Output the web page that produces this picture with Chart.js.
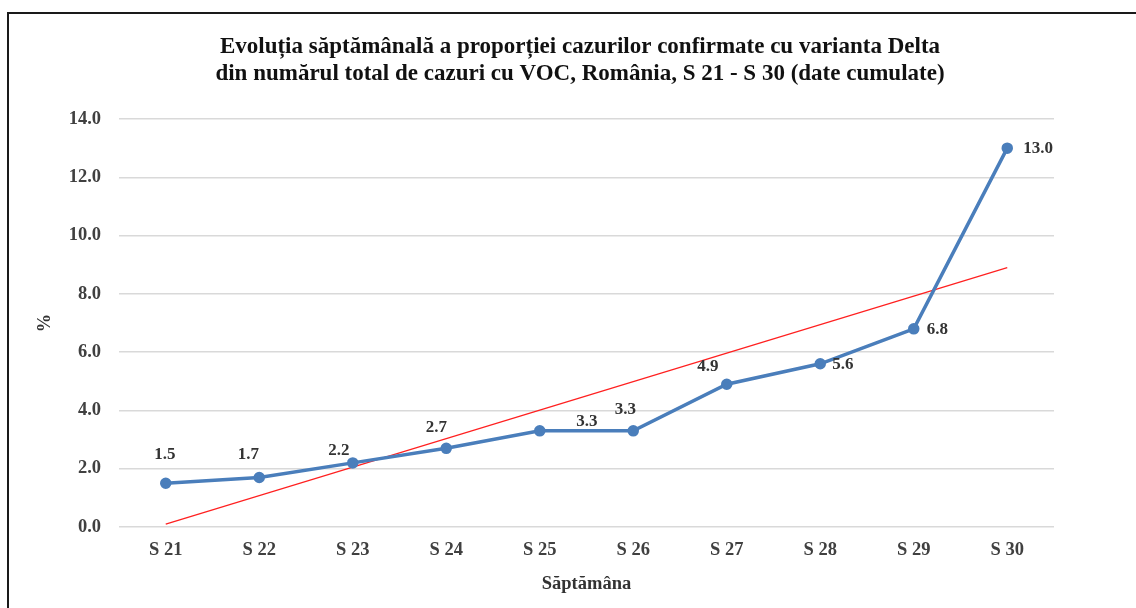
<!DOCTYPE html>
<html>
<head>
<meta charset="utf-8">
<script src="https://cdn.jsdelivr.net/npm/chart.js@4/dist/chart.umd.min.js"></script>
<style>
  html, body { margin: 0; padding: 0; background: #fff; overflow: hidden; }
  #cadru { position: absolute; left: 7px; top: 12px; width: 1200px; height: 700px; border: 2px solid #1a1a1a; }
  /* graficul original e ceva mai lat decât captura: titlul e centrat pe toată lățimea */
  #wrap { position: absolute; left: 0; top: 0; width: 1160px; height: 608px; }
</style>
</head>
<body>
<div id="cadru"></div>
<div id="wrap"><canvas id="graficaDelta"></canvas></div>
<script>
// Săptămânile și procentele
var saptamani = ['S 21', 'S 22', 'S 23', 'S 24', 'S 25', 'S 26', 'S 27', 'S 28', 'S 29', 'S 30'];
var procentDelta = [1.5, 1.7, 2.2, 2.7, 3.3, 3.3, 4.9, 5.6, 6.8, 13.0];
// linia de tendință: doar capetele
var tendinta = [0.1, null, null, null, null, null, null, null, null, 8.9];
var valoriAxaY = [0, 2, 4, 6, 8, 10, 12, 14];

var fontSerif = 'Liberation Serif, Times New Roman, serif';

// etichetele de date, plasate ca în Excel (deplasări în pixeli față de punct)
var deplasari = [[-1, -29], [-11, -23], [-14, -12], [-10, -21], [47, -9], [-8, -21], [-19, -18], [23, 1], [24, 1], [27, 0]];
var eticheteDate = {
    id: 'eticheteDate',
    afterDatasetsDraw: function (chart) {
        var ctx = chart.ctx;
        var meta = chart.getDatasetMeta(0);
        ctx.save();
        ctx.font = 'bold 17px ' + fontSerif;
        ctx.fillStyle = '#333333';
        ctx.textBaseline = 'middle';
        meta.data.forEach(function (pt, i) {
            var d = deplasari[i];
            var x = pt.x + d[0];
            ctx.textAlign = 'center';
            if (i >= 7) { ctx.textAlign = 'left'; x = pt.x + d[0] - 11; }
            ctx.fillText(procentDelta[i].toFixed(1), x, pt.y + d[1]);
        });
        ctx.restore();
    }
};

var ctxDelta = document.getElementById('graficaDelta').getContext('2d');
var graficaDelta = new Chart(ctxDelta, {
    type: 'line',
    data: {
        labels: saptamani,
        datasets: [{
            label: '% Delta',
            data: procentDelta,
            borderColor: '#4a7ebb',
            backgroundColor: '#4a7ebb',
            borderWidth: 3.5,
            pointRadius: 4,
            pointHoverRadius: 4,
            tension: 0
        }, {
            label: 'Tendință',
            data: tendinta,
            borderColor: '#ff2020',
            borderWidth: 1.2,
            pointRadius: 0,
            spanGaps: true
        }]
    },
    options: {
        responsive: true,
        maintainAspectRatio: false,
        animation: false,
        layout: { padding: 0 },
        plugins: {
            legend: { display: false },
            tooltip: { enabled: false },
            title: {
                display: true,
                text: ['Evoluția săptămânală a proporției cazurilor confirmate cu varianta Delta',
                       'din numărul total de cazuri cu VOC, România, S 21 - S 30 (date cumulate)'],
                font: { family: fontSerif, size: 23, weight: 'bold', lineHeight: 27 / 23 },
                color: '#111111',
                padding: { top: 33.5, bottom: 31.5 }
            }
        },
        scales: {
            x: {
                offset: true,
                grid: { display: false, drawTicks: false },
                border: { display: false },
                ticks: {
                    color: '#404040',
                    padding: 12,
                    font: { family: fontSerif, size: 18.5, weight: 'bold' }
                },
                title: {
                    display: true,
                    text: 'Săptămâna',
                    color: '#333333',
                    font: { family: fontSerif, size: 18.5, weight: 'bold' },
                    padding: { top: 0, bottom: 12.9 }
                },
                afterFit: function (s) { s.height = 81; }
            },
            y: {
                min: 0,
                max: 14,
                afterBuildTicks: function (s) {
                    s.ticks = valoriAxaY.map(function (v) { return { value: v }; });
                },
                grid: { color: '#d9d9d9', lineWidth: 1.5, drawTicks: false },
                border: { display: false },
                ticks: {
                    color: '#404040',
                    padding: 18,
                    font: { family: fontSerif, size: 18.5, weight: 'bold' },
                    callback: function (v) { return v.toFixed(1); }
                },
                title: {
                    display: true,
                    text: '%',
                    color: '#333333',
                    font: { family: fontSerif, size: 18.5, weight: 'bold' },
                    padding: { top: 33.9, bottom: 0 }
                },
                afterFit: function (s) { s.width = 119; }
            },
            // spațiu gol în dreapta zonei de desen (fără conținut)
            spatiuDreapta: {
                position: 'right',
                grid: { display: false, drawTicks: false },
                border: { display: false },
                ticks: { display: false },
                afterFit: function (s) { s.width = 106; }
            }
        }
    },
    plugins: [eticheteDate]
});
</script>
</body>
</html>
